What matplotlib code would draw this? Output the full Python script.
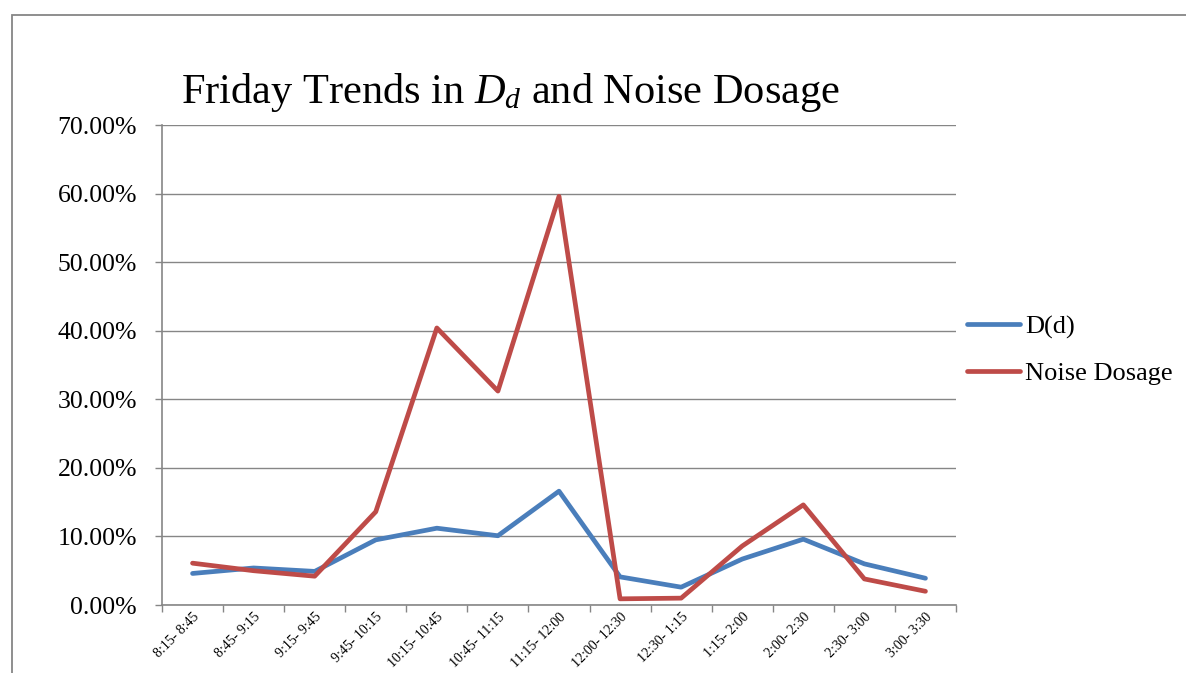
import matplotlib
matplotlib.use("Agg")
import matplotlib.pyplot as plt
from matplotlib.patches import Rectangle
from matplotlib.ticker import FuncFormatter, MultipleLocator

plt.rcParams["font.family"] = ["Liberation Serif", "DejaVu Serif"]
plt.rcParams["mathtext.fontset"] = "custom"
plt.rcParams["mathtext.rm"] = "Liberation Serif"
plt.rcParams["mathtext.it"] = "Liberation Serif:italic"

periods = ["8:15- 8:45", "8:45- 9:15", "9:15- 9:45", "9:45- 10:15",
           "10:15- 10:45", "10:45- 11:15", "11:15- 12:00", "12:00- 12:30",
           "12:30- 1:15", "1:15- 2:00", "2:00- 2:30", "2:30- 3:00", "3:00- 3:30"]
d_d = [4.6, 5.4, 4.9, 9.5, 11.2, 10.1, 16.6, 4.1, 2.6, 6.7, 9.6, 6.0, 3.9]
noise = [6.1, 5.0, 4.2, 13.6, 40.4, 31.2, 59.6, 0.9, 1.0, 8.6, 14.6, 3.8, 2.0]

GRAY = "#868686"
BLUE = "#4A7EBB"
RED = "#BE4B48"

fig = plt.figure(figsize=(11.86, 6.73), dpi=100)
fig.patch.set_facecolor("white")

# chart frame (runs off the right and bottom edge)
fig.add_artist(Rectangle((12 / 1186, -0.05), 1.2, (673 - 15) / 673 + 0.05,
                         transform=fig.transFigure, fill=False,
                         edgecolor=GRAY, linewidth=1.3))

ax = fig.add_axes([162 / 1186, 1 - 605 / 673, (956 - 162) / 1186, 480 / 673])
x = list(range(len(periods)))
ax.plot(x, d_d, color=BLUE, lw=3.4, label="D(d)", solid_capstyle="round",
        solid_joinstyle="round", zorder=3)
ax.plot(x, noise, color=RED, lw=3.4, label="Noise Dosage", solid_capstyle="round",
        solid_joinstyle="round", zorder=3)

ax.set_xlim(-0.5, len(periods) - 0.5)
ax.set_ylim(0, 70)
ax.yaxis.set_major_locator(MultipleLocator(10))
ax.yaxis.set_major_formatter(FuncFormatter(lambda v, p: f"{v:.2f}%"))
ax.grid(axis="y", color=GRAY, lw=1)
ax.set_axisbelow(True)

ax.set_xticks([i - 0.5 for i in range(len(periods) + 1)])
ax.set_xticklabels([])
ax.set_xticks(x, minor=True)
ax.set_xticklabels(periods, minor=True, rotation=45, ha="right",
                   rotation_mode="anchor", fontsize=10)
ax.tick_params(axis="x", which="minor", length=0, pad=4)
ax.tick_params(axis="x", which="major", length=5, color=GRAY, width=1)
ax.tick_params(axis="y", length=5, color=GRAY, width=1, labelsize=18.5, pad=13)

for s in ["top", "right"]:
    ax.spines[s].set_visible(False)
for s in ["left", "bottom"]:
    ax.spines[s].set_color(GRAY)
    ax.spines[s].set_linewidth(1.2)

fig.text(510 / 1186, 1 - 93 / 673, "Friday Trends in $D_d$ and Noise Dosage",
         ha="center", va="center", fontsize=30.5)

fig.legend(loc="center left", bbox_to_anchor=(967 / 1186, 1 - 350 / 673),
           frameon=False, fontsize=19, handlelength=2.0, handletextpad=0.2,
           labelspacing=0.85, borderaxespad=0, borderpad=0)

fig.savefig("out.png", dpi=100, facecolor="white")
